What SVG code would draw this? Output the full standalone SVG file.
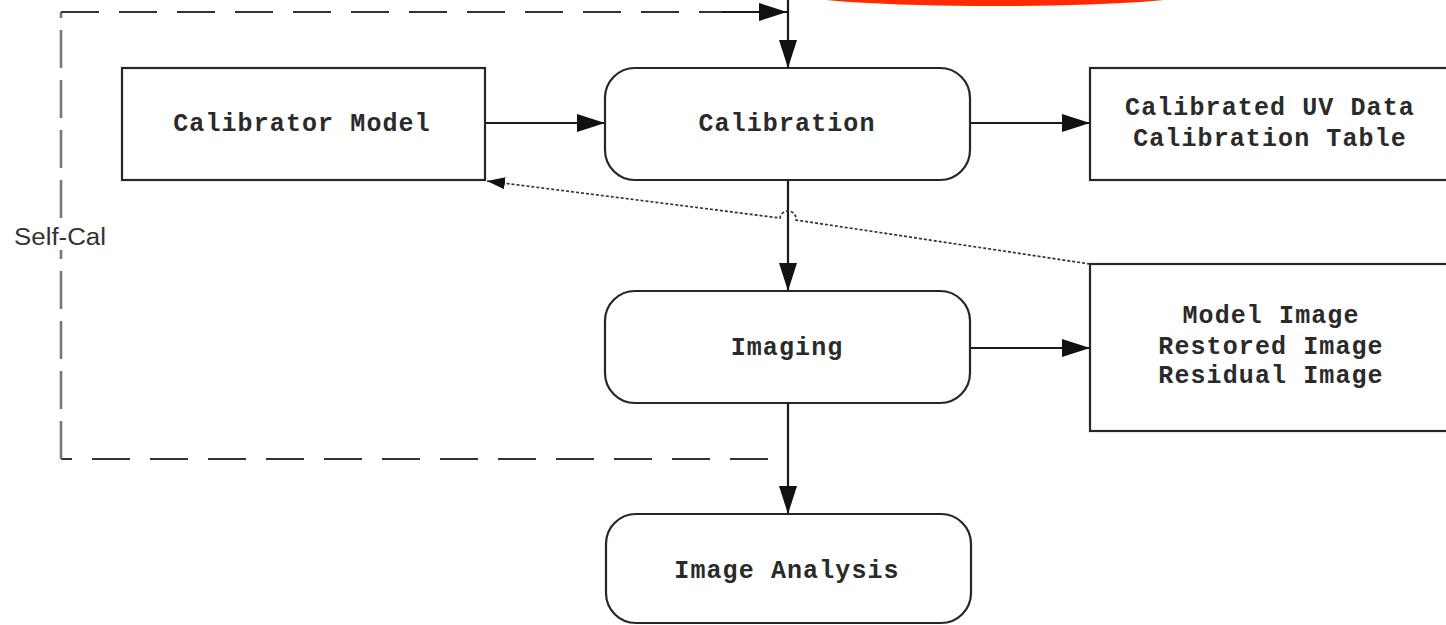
<svg xmlns="http://www.w3.org/2000/svg" width="1446" height="625" viewBox="0 0 1446 625">
<style>
.box{fill:#fff;stroke:#262626;stroke-width:2.2}
.lbl{font-family:"Liberation Mono","Courier New",monospace;font-weight:bold;font-size:25px;letter-spacing:1.1px;fill:#2a2a2a;text-anchor:middle}
.edge{fill:none;stroke:#1a1a1a;stroke-width:2.2}
.loop{fill:none;stroke:#333;stroke-width:2.2;stroke-dasharray:38 20}
.loopv{fill:none;stroke:#777;stroke-width:2.6;stroke-dasharray:38 12}
.dot{fill:none;stroke:#333;stroke-width:1.7;stroke-dasharray:3 2}
</style>
<defs>
<marker id="ah" viewBox="0 0 28 18" refX="28" refY="9" markerWidth="28" markerHeight="18" markerUnits="userSpaceOnUse" orient="auto">
<path d="M0,0 L28,9 L0,18 Z" fill="#111"/>
</marker>
<marker id="ahs" viewBox="0 0 18 12" refX="18" refY="6" markerWidth="18" markerHeight="12" markerUnits="userSpaceOnUse" orient="auto">
<path d="M0,0 L18,6 L0,12 Z" fill="#111"/>
</marker>
</defs>
<rect width="1446" height="625" fill="#fff"/>
<ellipse id="red-blob" cx="995" cy="-7" rx="200" ry="13" fill="#ff2a00"/>

<g id="connectors">
<path class="loop" d="M768,459 L61,459"/>
<path class="loopv" d="M61,459 L61,250"/>
<path class="loopv" d="M61,218 L61,12"/>
<path class="loop" d="M61,12 L730,12"/>
<path class="edge" d="M722,12 L787,12" marker-end="url(#ah)"/>
<path class="edge" d="M788,0 L788,68" marker-end="url(#ah)"/>
<path class="edge" d="M485,123 L605,123" marker-end="url(#ah)"/>
<path class="edge" d="M970,123 L1090,123" marker-end="url(#ah)"/>
<path class="edge" d="M788,180 L788,291" marker-end="url(#ah)"/>
<path class="edge" d="M970,348 L1090,348" marker-end="url(#ah)"/>
<path class="edge" d="M788,403 L788,514" marker-end="url(#ah)"/>
<path class="dot" d="M1090,264 L796,220 A8,8 0 0 0 780,218 L487,181" marker-end="url(#ahs)"/>
<text x="60" y="245" font-family="'Liberation Sans',Arial,sans-serif" font-size="23" fill="#333" text-anchor="middle" textLength="92" lengthAdjust="spacingAndGlyphs">Self-Cal</text>
</g>

<g id="calibrator-model">
<rect class="box" x="122" y="68" width="363" height="112"/>
<text class="lbl" x="302" y="131">Calibrator Model</text>
</g>
<g id="calibration">
<rect class="box" x="605" y="68" width="365" height="112" rx="30"/>
<text class="lbl" x="787" y="131">Calibration</text>
</g>
<g id="calibrated-uv-data">
<rect class="box" x="1090" y="68" width="370" height="112"/>
<text class="lbl" x="1270" y="115">Calibrated UV Data</text>
<text class="lbl" x="1270" y="146">Calibration Table</text>
</g>
<g id="imaging">
<rect class="box" x="605" y="291" width="365" height="112" rx="30"/>
<text class="lbl" x="787" y="355">Imaging</text>
</g>
<g id="model-image">
<rect class="box" x="1090" y="264" width="370" height="167"/>
<text class="lbl" x="1271" y="323">Model Image</text>
<text class="lbl" x="1271" y="354">Restored Image</text>
<text class="lbl" x="1271" y="383">Residual Image</text>
</g>
<g id="image-analysis">
<rect class="box" x="606" y="514" width="365" height="109" rx="30"/>
<text class="lbl" x="787" y="578">Image Analysis</text>
</g>
</svg>
